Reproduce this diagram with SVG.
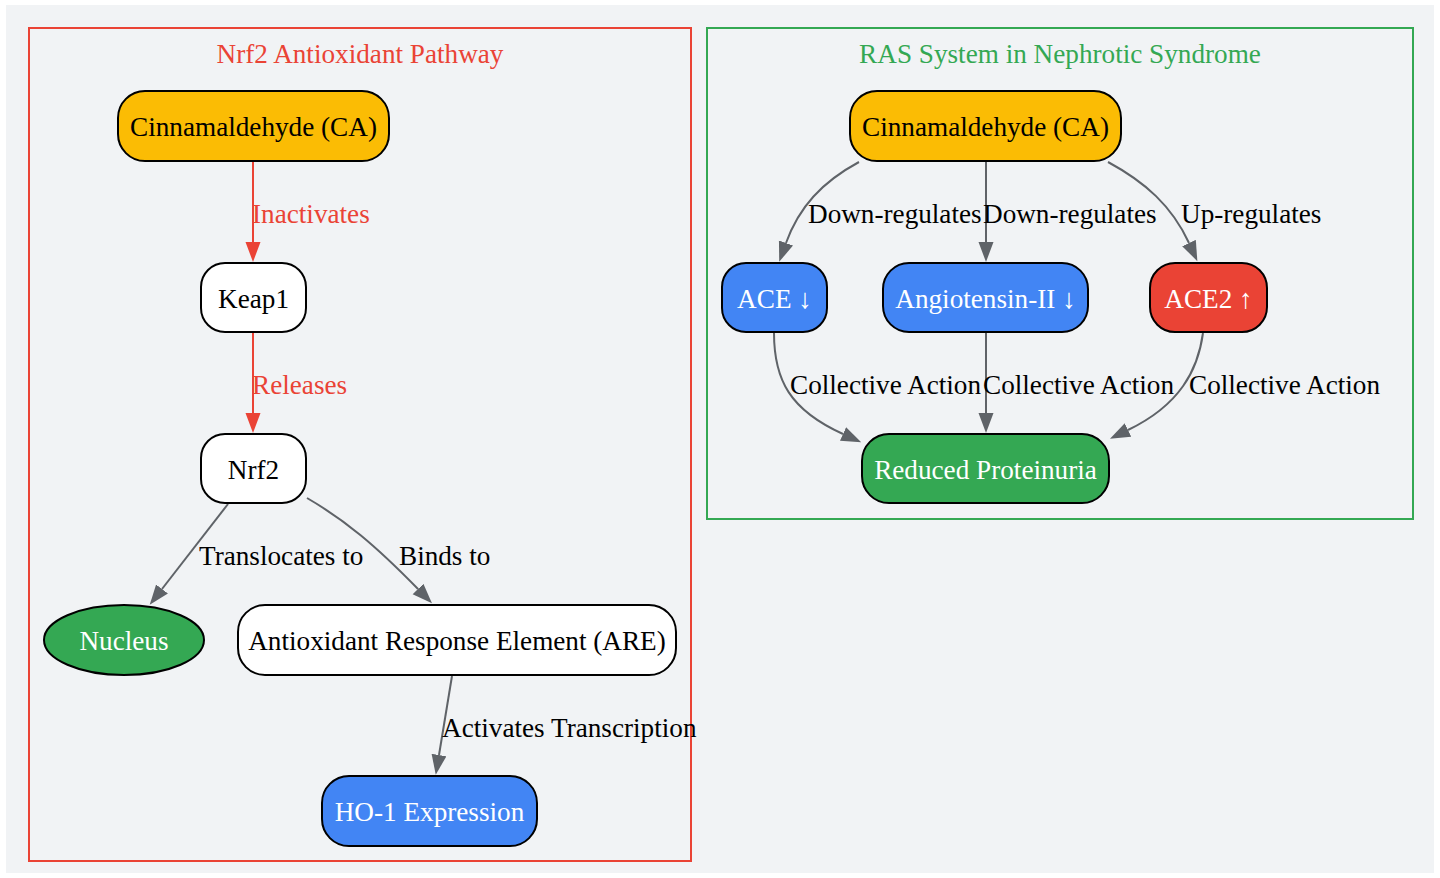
<svg xmlns="http://www.w3.org/2000/svg" width="1440" height="878" viewBox="0 0 1440 878">
<defs>
<marker id="ag" markerUnits="userSpaceOnUse" markerWidth="22" markerHeight="16" refX="0" refY="7.5" orient="auto"><path d="M0,0 L20,7.5 L0,15 z" fill="#5f6368"/></marker>
<marker id="ar" markerUnits="userSpaceOnUse" markerWidth="22" markerHeight="16" refX="0" refY="7.5" orient="auto"><path d="M0,0 L20,7.5 L0,15 z" fill="#ea4335"/></marker>
<style>
text{font-family:"Liberation Serif","Times New Roman",serif;font-size:27.2px}
.n text{text-anchor:middle}
.box{stroke:#000;stroke-width:2}
.w{fill:#fff}.y{fill:#fbbc04}.b{fill:#4285f4}.r{fill:#ea4335}.g{fill:#34a853}
.wt{fill:#fff}.bt{fill:#000}
.eg{fill:none;stroke:#5f6368;stroke-width:2;marker-end:url(#ag)}
.er{fill:none;stroke:#ea4335;stroke-width:2;marker-end:url(#ar)}
.lg{fill:#000}.lr{fill:#ea4335}
</style>
</defs>
<rect x="0" y="0" width="1440" height="878" fill="#fff"/>
<rect x="6" y="5" width="1428" height="868" fill="#f1f3f5"/>
<g id="cluster_nrf2">
<rect x="29" y="28" width="662" height="833" fill="none" stroke="#ea4335" stroke-width="2"/>
<text x="360" y="63" text-anchor="middle" fill="#ea4335">Nrf2 Antioxidant Pathway</text>
</g>
<g id="cluster_ras">
<rect x="707" y="28" width="706" height="491" fill="none" stroke="#34a853" stroke-width="2"/>
<text x="1060" y="63" text-anchor="middle" fill="#34a853">RAS System in Nephrotic Syndrome</text>
</g>
<g id="edges">
<path class="er" d="M253,161 L253,242"/>
<text class="lr" x="252" y="223">Inactivates</text>
<path class="er" d="M253,332 L253,413"/>
<text class="lr" x="252" y="394">Releases</text>
<path class="eg" d="M228,504 L162,589"/>
<text class="lg" x="199" y="565">Translocates to</text>
<path class="eg" d="M307,498 C345,520 375,545 418,589"/>
<text class="lg" x="399" y="565">Binds to</text>
<path class="eg" d="M452,676 L439,755"/>
<text class="lg" x="442" y="737">Activates Transcription</text>
<path class="eg" d="M859,162 C822,182 799,207 786,243"/>
<text class="lg" x="808" y="223">Down-regulates</text>
<path class="eg" d="M986,161 L986,242"/>
<text class="lg" x="983" y="223">Down-regulates</text>
<path class="eg" d="M1108,162 C1145,182 1172,206 1189,243"/>
<text class="lg" x="1181" y="223">Up-regulates</text>
<path class="eg" d="M774,333 C774,380 790,410 843,434"/>
<text class="lg" x="790" y="394">Collective Action</text>
<path class="eg" d="M986,333 L986,413"/>
<text class="lg" x="983" y="394">Collective Action</text>
<path class="eg" d="M1203,333 C1198,370 1180,405 1128,430"/>
<text class="lg" x="1189" y="394">Collective Action</text>
</g>
<g id="ca1" class="n"><rect class="box y" x="118" y="91" width="271" height="70" rx="27"/><text class="bt" x="253.5" y="136">Cinnamaldehyde (CA)</text></g>
<g id="keap1" class="n"><rect class="box w" x="201" y="263" width="105" height="69" rx="24"/><text class="bt" x="253.5" y="308">Keap1</text></g>
<g id="nrf2" class="n"><rect class="box w" x="201" y="434" width="105" height="69" rx="24"/><text class="bt" x="253.5" y="479">Nrf2</text></g>
<g id="nucleus" class="n"><ellipse class="box g" cx="124" cy="640" rx="80" ry="35"/><text class="wt" x="124" y="650">Nucleus</text></g>
<g id="are" class="n"><rect class="box w" x="238" y="605" width="438" height="70" rx="27"/><text class="bt" x="457" y="650">Antioxidant Response Element (ARE)</text></g>
<g id="ho1" class="n"><rect class="box b" x="322" y="776" width="215" height="70" rx="27"/><text class="wt" x="429.5" y="821">HO-1 Expression</text></g>
<g id="ca2" class="n"><rect class="box y" x="850" y="91" width="271" height="70" rx="27"/><text class="bt" x="985.5" y="136">Cinnamaldehyde (CA)</text></g>
<g id="ace" class="n"><rect class="box b" x="722" y="263" width="105" height="69" rx="24"/><text class="wt" x="774.5" y="308">ACE ↓</text></g>
<g id="ang2" class="n"><rect class="box b" x="883" y="263" width="205" height="69" rx="26"/><text class="wt" x="985.5" y="308">Angiotensin-II ↓</text></g>
<g id="ace2" class="n"><rect class="box r" x="1150" y="263" width="117" height="69" rx="25"/><text class="wt" x="1208.5" y="308">ACE2 ↑</text></g>
<g id="proteinuria" class="n"><rect class="box g" x="862" y="434" width="247" height="69" rx="27"/><text class="wt" x="985.5" y="479">Reduced Proteinuria</text></g>
</svg>
